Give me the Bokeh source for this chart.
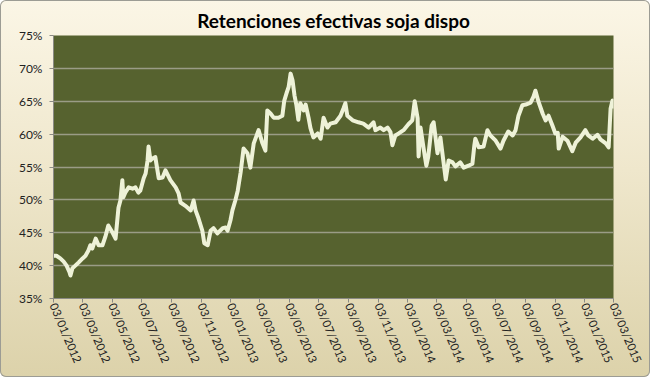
from bokeh.plotting import figure
from bokeh.models import FixedTicker, PrintfTickFormatter, Range1d, ColumnDataSource
from bokeh.embed import file_html
from bokeh.resources import INLINE
import pandas as pd

title_text = "Retenciones efectivas soja dispo"

dates = [
    "2012-01-03", "2012-01-09", "2012-01-17", "2012-01-24", "2012-01-30", "2012-02-05", "2012-02-07",
    "2012-02-11", "2012-02-17", "2012-02-24", "2012-03-03", "2012-03-09", "2012-03-15", "2012-03-19",
    "2012-03-23", "2012-03-30", "2012-04-05", "2012-04-13", "2012-04-19", "2012-04-25", "2012-05-04",
    "2012-05-10", "2012-05-16", "2012-05-20", "2012-05-24", "2012-05-26", "2012-05-30", "2012-06-06",
    "2012-06-14", "2012-06-20", "2012-06-26", "2012-06-30", "2012-07-07", "2012-07-11", "2012-07-15",
    "2012-07-17", "2012-07-21", "2012-07-25", "2012-07-31", "2012-08-07", "2012-08-15", "2012-08-21",
    "2012-08-31", "2012-09-11", "2012-09-17", "2012-09-21", "2012-10-01", "2012-10-12", "2012-10-18",
    "2012-10-22", "2012-10-28", "2012-11-05", "2012-11-09", "2012-11-16", "2012-11-22", "2012-11-28",
    "2012-12-06", "2012-12-17", "2012-12-23", "2012-12-27", "2013-01-02", "2013-01-06", "2013-01-12",
    "2013-01-17", "2013-01-23", "2013-01-29", "2013-02-06", "2013-02-12", "2013-02-19", "2013-03-01",
    "2013-03-09", "2013-03-15", "2013-03-19", "2013-03-26", "2013-04-01", "2013-04-11", "2013-04-19",
    "2013-04-23", "2013-04-28", "2013-05-02", "2013-05-06", "2013-05-10", "2013-05-14", "2013-05-18",
    "2013-05-22", "2013-05-26", "2013-06-02", "2013-06-06", "2013-06-12", "2013-06-16", "2013-06-22",
    "2013-07-01", "2013-07-07", "2013-07-13", "2013-07-21", "2013-07-27", "2013-08-07", "2013-08-17",
    "2013-08-23", "2013-08-27", "2013-08-31", "2013-09-11", "2013-09-23", "2013-10-03", "2013-10-14",
    "2013-10-24", "2013-10-28", "2013-11-07", "2013-11-14", "2013-11-22", "2013-11-28", "2013-12-02",
    "2013-12-08", "2013-12-15", "2013-12-25", "2014-01-04", "2014-01-12", "2014-01-17", "2014-01-23",
    "2014-01-25", "2014-01-29", "2014-02-04", "2014-02-10", "2014-02-14", "2014-02-21", "2014-02-25",
    "2014-03-01", "2014-03-05", "2014-03-11", "2014-03-17", "2014-03-22", "2014-03-28", "2014-04-05",
    "2014-04-11", "2014-04-21", "2014-04-28", "2014-05-08", "2014-05-16", "2014-05-20", "2014-05-22",
    "2014-05-29", "2014-06-08", "2014-06-16", "2014-06-22", "2014-07-03", "2014-07-13", "2014-07-19",
    "2014-07-29", "2014-08-07", "2014-08-13", "2014-08-19", "2014-08-23", "2014-08-27", "2014-09-03",
    "2014-09-13", "2014-09-19", "2014-09-23", "2014-09-29", "2014-10-08", "2014-10-14", "2014-10-20",
    "2014-10-28", "2014-11-03", "2014-11-08", "2014-11-10", "2014-11-18", "2014-11-28", "2014-12-08",
    "2014-12-15", "2014-12-25", "2015-01-04", "2015-01-10", "2015-01-19", "2015-01-29", "2015-02-04",
    "2015-02-15", "2015-02-21", "2015-02-25", "2015-03-01", "2015-03-03",
]

retenciones = [
    41.5, 41.5, 41.1, 40.6, 40.0, 39.0, 38.5,
    39.6, 40.0, 40.5, 41.1, 41.5, 42.3, 43.1,
    42.6, 44.1, 43.1, 43.1, 44.4, 46.1, 45.0,
    44.1, 48.8, 49.9, 53.0, 50.4, 51.1, 51.9,
    51.7, 51.9, 51.1, 51.4, 53.3, 54.0, 56.0,
    58.1, 56.0, 56.3, 56.5, 53.3, 53.4, 54.5,
    53.0, 51.9, 51.0, 49.6, 49.1, 48.4, 49.9,
    48.4, 47.2, 45.3, 43.4, 43.1, 45.3, 45.7,
    44.9, 45.7, 45.8, 45.3, 46.9, 48.4, 49.9,
    51.4, 54.2, 57.8, 57.1, 54.9, 58.6, 60.6,
    58.6, 57.5, 63.6, 63.1, 62.5, 62.5, 62.8,
    65.1, 66.3, 67.2, 69.2, 68.2, 65.9, 64.4,
    62.2, 64.7, 63.6, 64.5, 62.5, 60.9, 59.5,
    60.1, 59.3, 62.5, 61.0, 61.6, 61.8, 62.8,
    63.9, 64.7, 62.8, 62.1, 61.8, 61.6, 61.0,
    61.8, 60.6, 61.0, 60.6, 61.0, 60.3, 58.3,
    59.8, 60.1, 60.6, 61.5, 62.1, 65.0, 62.4,
    56.6, 61.0, 58.0, 55.2, 56.6, 61.3, 61.8,
    59.5, 57.1, 59.5, 56.0, 53.1, 56.0, 55.7,
    55.1, 55.7, 54.9, 55.2, 55.5, 58.3, 59.3,
    58.0, 58.1, 60.6, 59.8, 59.0, 57.8, 59.0,
    60.4, 59.8, 60.6, 62.8, 63.6, 64.4, 64.5,
    64.8, 65.7, 66.6, 65.0, 63.1, 62.1, 62.8,
    61.3, 60.1, 60.2, 57.8, 59.6, 59.0, 57.4,
    58.7, 59.5, 60.6, 59.8, 59.3, 59.9, 59.2,
    58.6, 58.0, 63.9, 65.1, 63.9,
]

tick_dates = [
    "2012-01-03", "2012-03-03", "2012-05-03", "2012-07-03", "2012-09-03", "2012-11-03",
    "2013-01-03", "2013-03-03", "2013-05-03", "2013-07-03", "2013-09-03", "2013-11-03",
    "2014-01-03", "2014-03-03", "2014-05-03", "2014-07-03", "2014-09-03", "2014-11-03",
    "2015-01-03", "2015-03-03",
]
tick_labels = [
    "03/01/2012", "03/03/2012", "03/05/2012", "03/07/2012", "03/09/2012", "03/11/2012",
    "03/01/2013", "03/03/2013", "03/05/2013", "03/07/2013", "03/09/2013", "03/11/2013",
    "03/01/2014", "03/03/2014", "03/05/2014", "03/07/2014", "03/09/2014", "03/11/2014",
    "03/01/2015", "03/03/2015",
]
y_ticks = [35, 40, 45, 50, 55, 60, 65, 70, 75]

FONT = "Lato"

src = ColumnDataSource(dict(x=pd.to_datetime(dates), y=retenciones))
tick_ms = [int(pd.Timestamp(d).value // 10**6) for d in tick_dates]

p = figure(
    width=650, height=377, output_backend="svg", toolbar_location=None,
    x_axis_type="datetime",
    x_range=Range1d(pd.Timestamp(tick_dates[0]), pd.Timestamp(tick_dates[-1])),
    y_range=Range1d(35, 75),
    min_border_left=53, min_border_right=37, min_border_top=35, min_border_bottom=79,
    title=title_text,
)
p.styles = {
    "background": "linear-gradient(180deg, #fbf6e6 0%, #efe7cc 45%, #dcd2aa 100%)",
    "box-shadow": "inset 0 0 0 1px #9c9c94",
    "border-radius": "6px",
}
p.border_fill_color = None
p.background_fill_color = "#56622f"
p.outline_line_color = None

p.title.align = "center"
p.title.text_font = FONT
p.title.text_font_size = "19px"
p.title.text_font_style = "bold"
p.title.text_color = "#000000"
p.title.standoff = 7

p.line("x", "y", source=src, line_color="#eef2d8", line_width=4, line_join="round")

p.xgrid.grid_line_color = None
p.ygrid.ticker = FixedTicker(ticks=y_ticks)
p.ygrid.grid_line_color = "#9a9c86"
p.ygrid.grid_line_width = 1.5

p.yaxis.ticker = FixedTicker(ticks=y_ticks)
p.yaxis.formatter = PrintfTickFormatter(format="%d%%")
p.xaxis.ticker = FixedTicker(ticks=tick_ms)
p.xaxis.major_label_overrides = {t: lab for t, lab in zip(tick_ms, tick_labels)}
p.xaxis.major_label_orientation = -1.17

for ax in (p.xaxis, p.yaxis):
    ax.axis_line_color = "#8a8a84"
    ax.axis_line_width = 1
    ax.major_tick_line_color = "#8a8a84"
    ax.major_tick_out = 4
    ax.major_tick_in = 0
    ax.minor_tick_line_color = None
    ax.major_label_text_font = FONT
    ax.major_label_text_color = "#222222"
p.yaxis.major_label_text_font_size = "12px"
p.xaxis.major_label_text_font_size = "11.5px"
p.yaxis.major_label_standoff = 7
p.xaxis.major_label_standoff = 1

open("out.html", "w").write(file_html(p, INLINE))
